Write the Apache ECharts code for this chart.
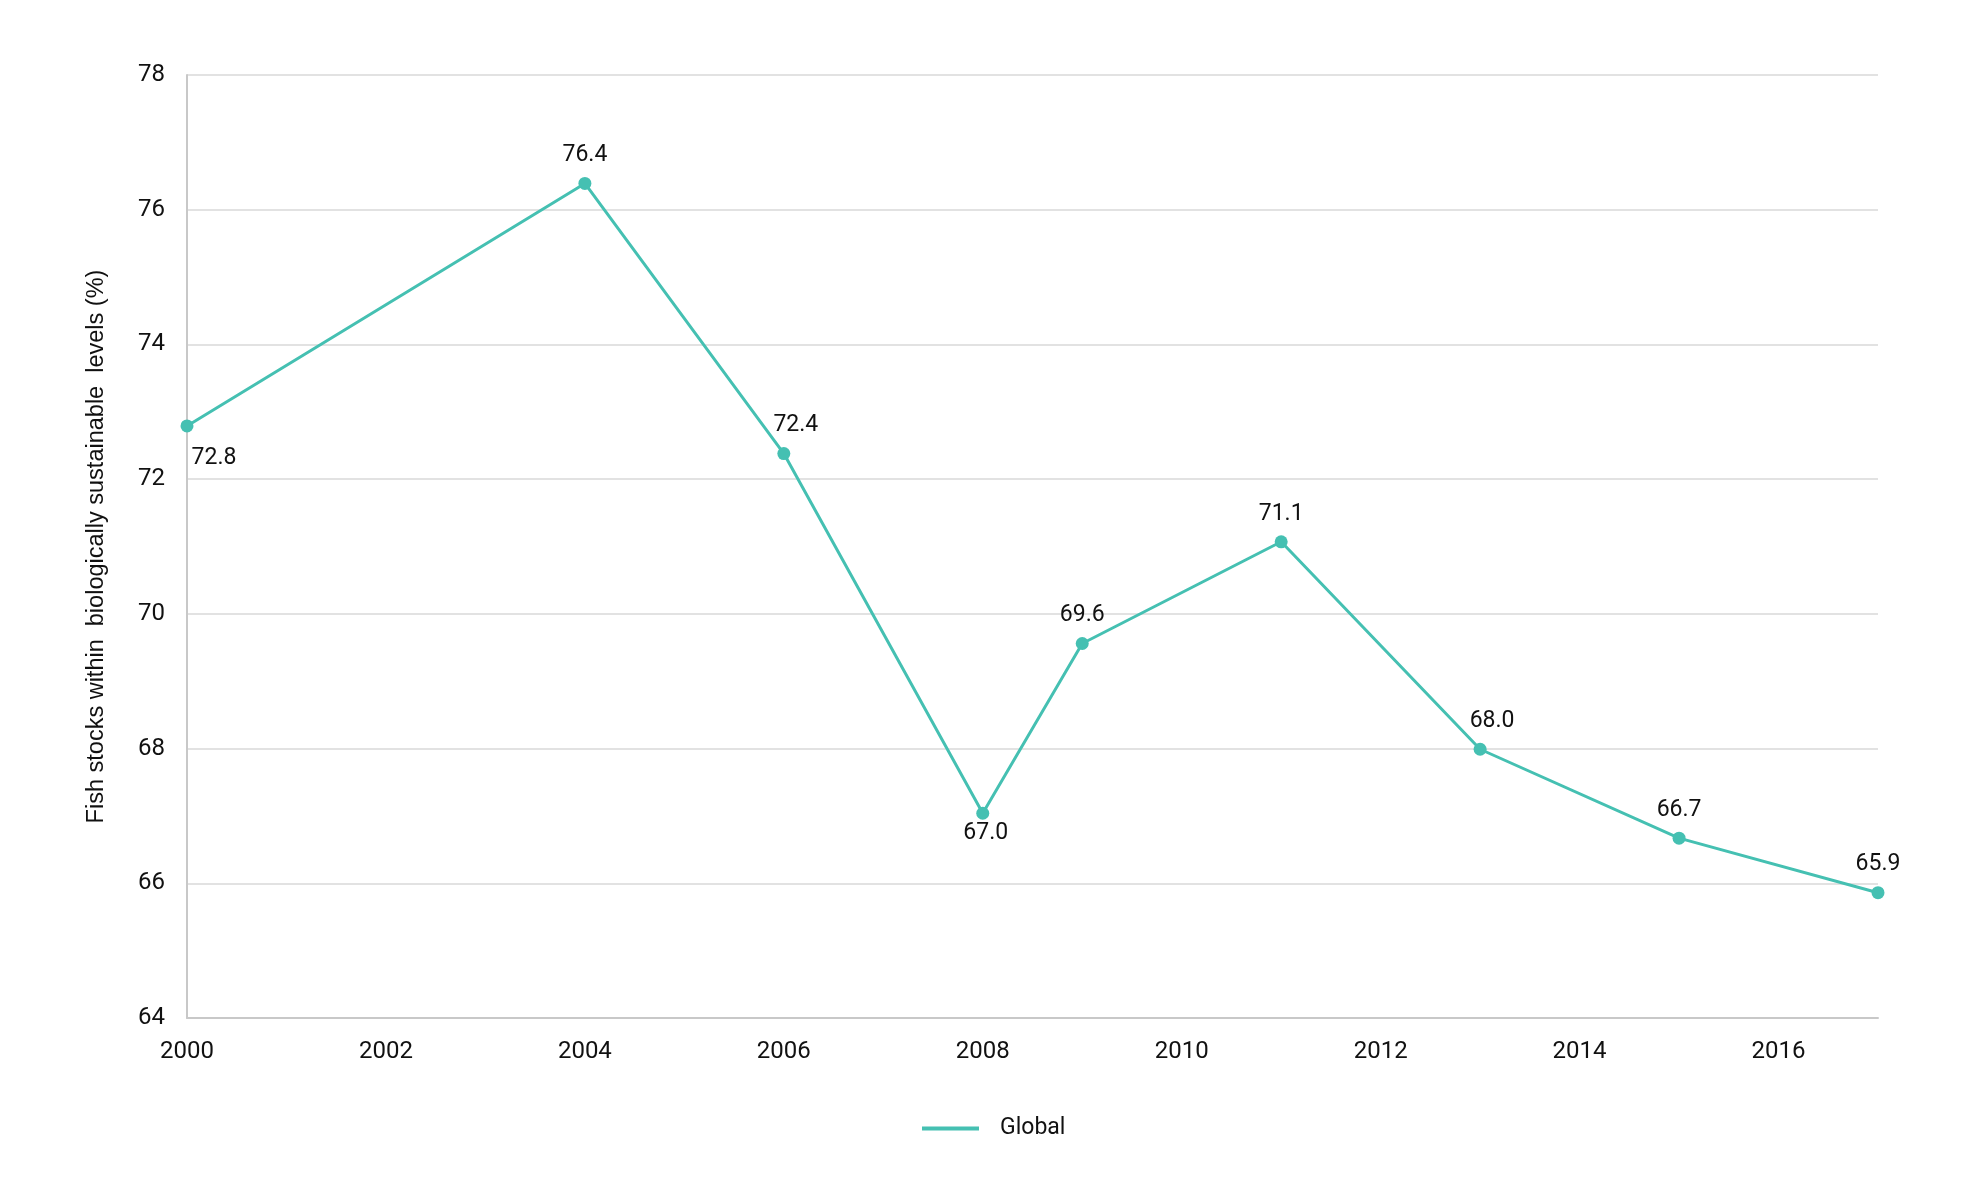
<!DOCTYPE html>
<html>
<head>
<meta charset="utf-8">
<script src="https://cdn.jsdelivr.net/npm/echarts@6/dist/echarts.min.js"></script>
<style>html,body{margin:0;padding:0;background:#fff;}#c{width:1962px;height:1177px;}</style>
</head>
<body>
<div id="c"></div>
<script>
const years = [2000, 2004, 2006, 2008, 2009, 2011, 2013, 2015, 2017];
const globalValues = [72.79, 76.39, 72.38, 67.04, 69.56, 71.07, 67.99, 66.67, 65.86];
const labelPositions = ['below-right', 'top', 'top-right', 'bottom', 'top', 'top', 'top-right', 'top', 'top'];
const seriesName = 'Global';
const yAxisTitle = 'Fish stocks within  biologically sustainable  levels (%)';

const color = '#45c0b2';
const chart = echarts.init(document.getElementById('c'));
const data = years.map((y, i) => {
  const p = labelPositions[i];
  let label;
  if (p === 'below-right') label = { position: 'bottom', distance: 14, offset: [27, 0] };
  else if (p === 'bottom') label = { position: 'bottom', distance: 2, offset: [3, 0] };
  else if (p === 'top-right') label = { position: 'top', distance: 10, offset: [12, 0] };
  else label = { position: 'top', distance: 10 };
  return { value: [y, globalValues[i]], label };
});
chart.setOption({
  animation: false,
  grid: { left: 187, right: 84, top: 75, bottom: 159 },
  legend: {
    bottom: 32, left: 917,
    itemWidth: 57, itemHeight: 4, itemGap: 20,
    textStyle: { fontFamily: 'Roboto', fontSize: 23, color: '#111', padding: [0, 0, 0, 16] },
    data: [{ name: seriesName, icon: 'path://M0,0 L57,0 L57,4 L0,4 Z' }]
  },
  xAxis: {
    type: 'value', min: 2000, max: 2017, interval: 2,
    axisLine: { show: true, lineStyle: { color: '#c8c8c8', width: 2 } },
    axisTick: { show: false },
    splitLine: { show: false },
    axisLabel: { showMaxLabel: false, margin: 22, fontFamily: 'Roboto', fontSize: 24, color: '#111', formatter: v => String(v) }
  },
  yAxis: {
    type: 'value', min: 64, max: 78, interval: 2,
    name: yAxisTitle, nameLocation: 'middle', nameGap: 78,
    nameTextStyle: { fontFamily: 'Liberation Sans', fontSize: 23.5, color: '#111' },
    axisLine: { show: true, lineStyle: { color: '#c8c8c8', width: 2 } },
    axisTick: { show: false },
    splitLine: { show: true, lineStyle: { color: '#d9d9d9', width: 1.5 } },
    axisLabel: { margin: 22, fontFamily: 'Roboto', fontSize: 24, color: '#111' }
  },
  series: [{
    name: seriesName, type: 'line', data,
    symbol: 'circle', symbolSize: 13,
    lineStyle: { color, width: 3 },
    itemStyle: { color },
    label: { show: true, fontFamily: 'Roboto', fontSize: 23, color: '#111', formatter: p => p.value[1].toFixed(1) }
  }]
});
</script>
</body>
</html>
